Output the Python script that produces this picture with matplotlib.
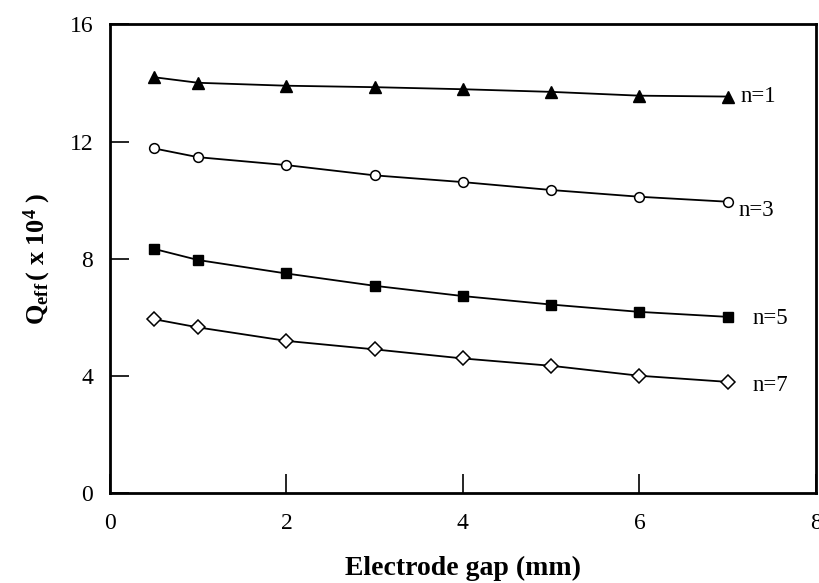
import matplotlib
matplotlib.use("Agg")
import matplotlib.pyplot as plt

plt.rcParams['font.family'] = ['Liberation Serif', 'DejaVu Serif']
plt.rcParams['mathtext.fontset'] = 'custom'
plt.rcParams['mathtext.rm'] = 'Liberation Serif'
plt.rcParams['mathtext.it'] = 'Liberation Serif:italic'
plt.rcParams['mathtext.bf'] = 'Liberation Serif:bold'

# electrode gap (mm)
gap = [0.5, 1, 2, 3, 4, 5, 6, 7]

# effective Q (x 10^4) for each order n
q_n1 = [14.20, 14.01, 13.91, 13.86, 13.79, 13.70, 13.57, 13.54]
q_n3 = [11.77, 11.47, 11.20, 10.85, 10.62, 10.35, 10.12, 9.95]
q_n5 = [8.34, 7.96, 7.50, 7.08, 6.73, 6.44, 6.19, 6.02]
q_n7 = [5.94, 5.66, 5.20, 4.91, 4.60, 4.35, 4.01, 3.80]

labels = ['n=1', 'n=3', 'n=5', 'n=7']
label_pos = [(7.15, 13.54), (7.12, 9.66), (7.28, 5.97), (7.28, 3.69)]

fig = plt.figure(figsize=(8.2, 5.83), dpi=100)
ax = fig.add_axes([0.134, 0.154, 0.861, 0.804])

line_kw = dict(color='black', lw=1.3)
ax.plot(gap, q_n1, marker='^', ms=8, mfc='black', mec='black', **line_kw)
ax.plot(gap, q_n3, marker='o', ms=7, mfc='white', mec='black', mew=1.1, **line_kw)
ax.plot(gap, q_n5, marker='s', ms=7, mfc='black', mec='black', **line_kw)
ax.plot(gap, q_n7, marker='D', ms=7, mfc='white', mec='black', mew=1.1, **line_kw)

for text, (x, y) in zip(labels, label_pos):
    ax.text(x, y, text, fontsize=16.5, va='center', ha='left')

ax.set_xlim(0, 8)
ax.set_ylim(0, 16)
ax.set_xticks([0, 2, 4, 6, 8])
ax.set_yticks([0, 4, 8, 12, 16])

for side in ['left', 'bottom', 'top', 'right']:
    ax.spines[side].set_linewidth(2)

ax.tick_params(direction='in', length=14, width=1.2, labelsize=17)
ax.tick_params(axis='x', pad=14)
ax.tick_params(axis='y', pad=12)

ax.set_xlabel('Electrode gap (mm)', fontsize=20, fontweight='bold', labelpad=16)
ax.set_ylabel(r'$\mathbf{Q_{eff}\,(\ x\ 10^4\ )}$', fontsize=19, labelpad=12)

fig.savefig('out.png', dpi=100)
